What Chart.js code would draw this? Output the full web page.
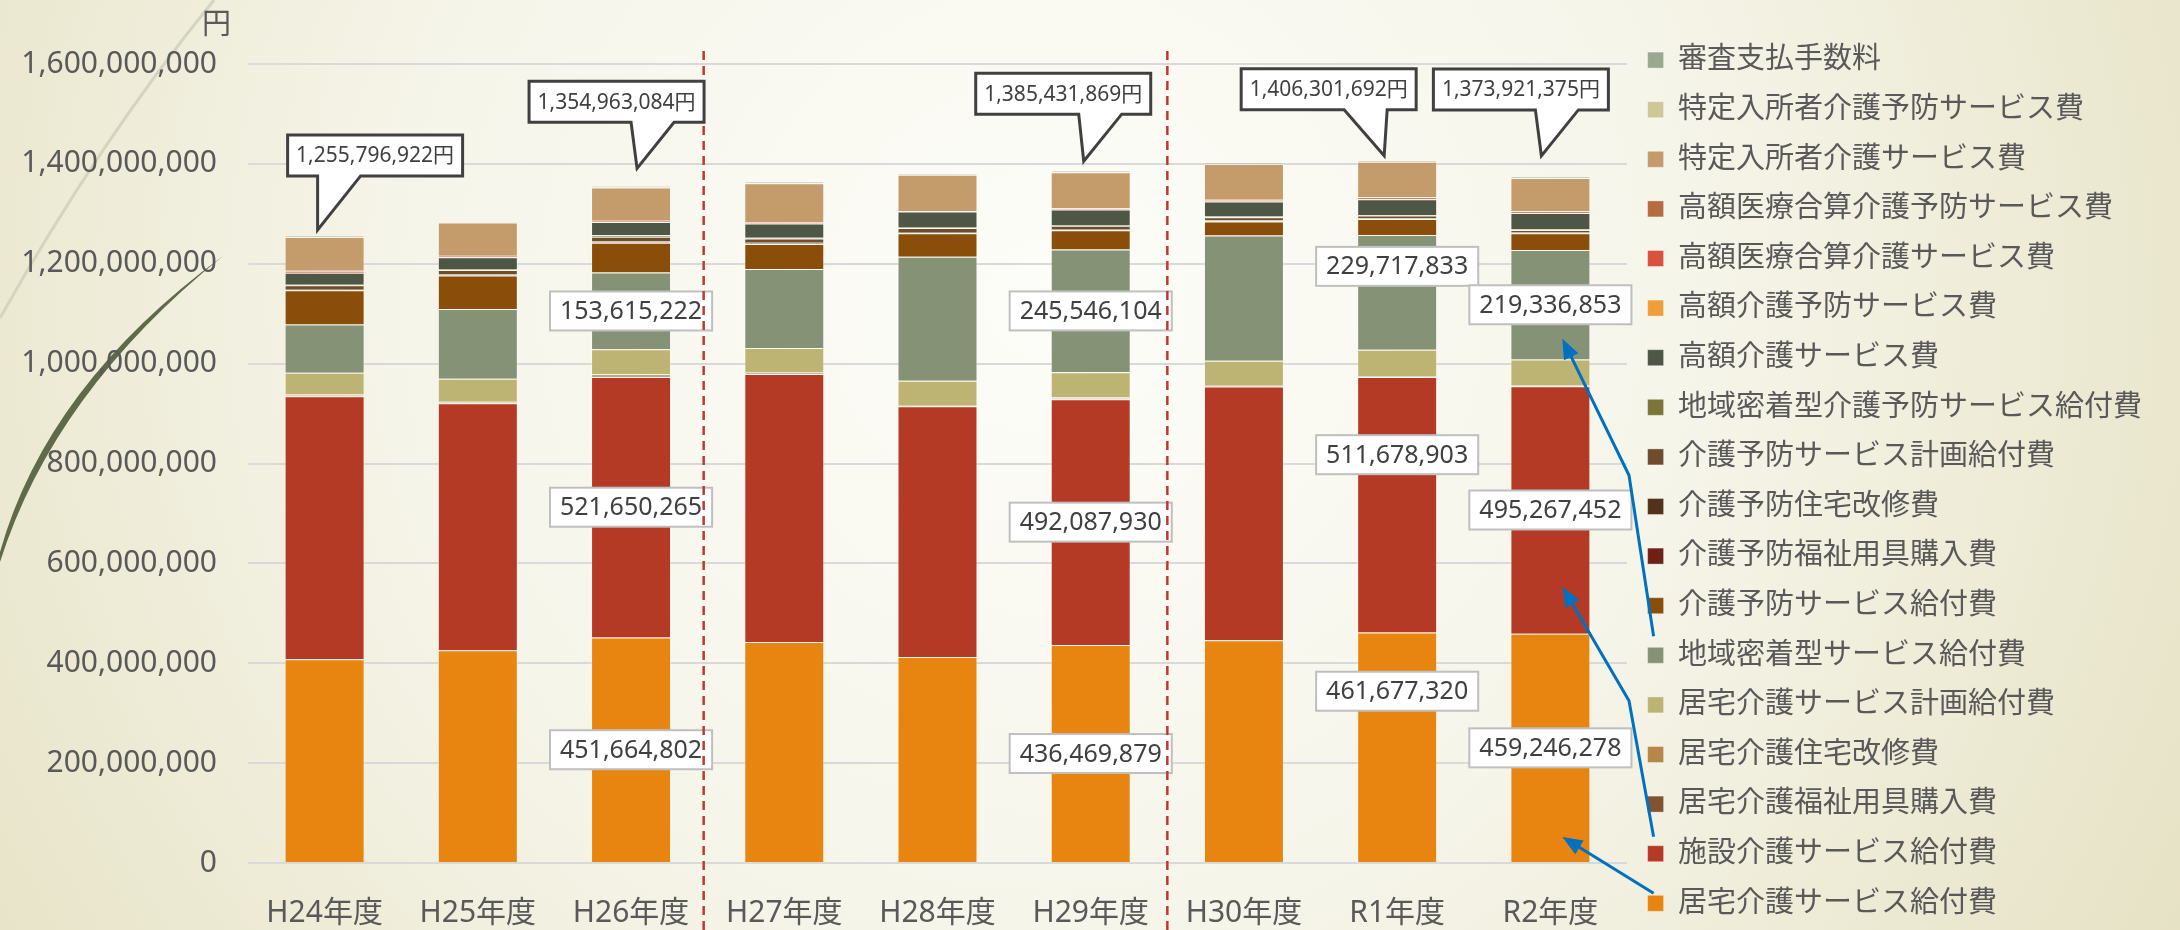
<!DOCTYPE html>
<html lang="ja">
<head>
    <meta charset="UTF-8">
    <title>保険給付費の推移</title>
    <script src="https://cdn.jsdelivr.net/npm/chart.js"></script>
    <style>
        html, body {
            margin: 0;
            padding: 0;
        }

        body {
            width: 2180px;
            height: 930px;
            overflow: hidden;
            background: #f3f1e3;
        }
    </style>
</head>
<body>
    <canvas id="costChart" width="2180" height="930"></canvas>

    <script>
        // 年度
        const fiscalYears = ['H24年度', 'H25年度', 'H26年度', 'H27年度', 'H28年度', 'H29年度', 'H30年度', 'R1年度', 'R2年度'];

        // 給付費（円）: stacked from the bottom up
        const homeCareService = [408000000, 426000000, 451664802, 442700000, 412400000, 436469879, 446000000, 461677320, 459246278];
        const facilityCare = [526600000, 494600000, 521650265, 536600000, 502300000, 492087930, 508000000, 511678903, 495267452];
        const homeWelfareEquip = [1600000, 1500000, 2000000, 1600000, 500000, 1500000, 1300000, 800000, 700000];
        const homeRenovation = [2000000, 1800000, 3300000, 1700000, 600000, 2000000, 1400000, 1000000, 1000000];
        const homeCarePlan = [43300000, 46000000, 50000000, 48700000, 50000000, 50700000, 49300000, 52700000, 52000000];
        const communityService = [96600000, 139300000, 153615222, 158000000, 248000000, 245546104, 250700000, 229717833, 219336853];
        const prevService = [68600000, 67300000, 60000000, 50000000, 47300000, 38700000, 28000000, 32000000, 33300000];
        const prevWelfareEquip = [600000, 600000, 700000, 600000, 500000, 500000, 300000, 300000, 300000];
        const prevRenovation = [2000000, 2200000, 2400000, 2200000, 2000000, 1800000, 1600000, 1500000, 1500000];
        const prevCarePlan = [7400000, 8000000, 8600000, 8400000, 8200000, 7000000, 6600000, 5000000, 5000000];
        const prevCommunity = [1400000, 1900000, 3000000, 1500000, 2000000, 1400000, 1500000, 1200000, 1200000];
        const highCost = [24000000, 24000000, 26700000, 28700000, 30700000, 30700000, 30000000, 31500000, 32700000];
        const prevHighCost = [100000, 100000, 100000, 100000, 100000, 100000, 100000, 100000, 100000];
        const highMedCombined = [3600000, 2400000, 1900000, 2400000, 400000, 2300000, 2900000, 4200000, 3000000];
        const prevHighMedCombined = [300000, 300000, 300000, 200000, 100000, 300000, 300000, 400000, 300000];
        const specialResident = [67696922, 66700000, 66932795, 78000000, 73300000, 72327956, 71500000, 70427636, 66870792];
        const prevSpecialResident = [200000, 200000, 200000, 200000, 200000, 100000, 100000, 100000, 100000];
        const reviewFee = [1800000, 1800000, 1900000, 1800000, 1800000, 1900000, 1900000, 2000000, 2000000];

        // y軸目盛
        const yTicks = [0, 200000000, 400000000, 600000000, 800000000, 1000000000, 1200000000, 1400000000, 1600000000];

        const series = [
            ['居宅介護サービス給付費', homeCareService, '#e88510'],
            ['施設介護サービス給付費', facilityCare, '#b53a26'],
            ['居宅介護福祉用具購入費', homeWelfareEquip, '#805332'],
            ['居宅介護住宅改修費', homeRenovation, '#b5874a'],
            ['居宅介護サービス計画給付費', homeCarePlan, '#bdb474'],
            ['地域密着型サービス給付費', communityService, '#869276'],
            ['介護予防サービス給付費', prevService, '#8a4e0a'],
            ['介護予防福祉用具購入費', prevWelfareEquip, '#6f2118'],
            ['介護予防住宅改修費', prevRenovation, '#52321c'],
            ['介護予防サービス計画給付費', prevCarePlan, '#6e4c2c'],
            ['地域密着型介護予防サービス給付費', prevCommunity, '#7b7539'],
            ['高額介護サービス費', highCost, '#4e5645'],
            ['高額介護予防サービス費', prevHighCost, '#f09e3a'],
            ['高額医療合算介護サービス費', highMedCombined, '#d9523e'],
            ['高額医療合算介護予防サービス費', prevHighMedCombined, '#b46c40'],
            ['特定入所者介護サービス費', specialResident, '#c49b6a'],
            ['特定入所者介護予防サービス費', prevSpecialResident, '#cec796'],
            ['審査支払手数料', reviewFee, '#9aa88f']
        ];

        const FONT = "'Noto Sans', 'Noto Sans CJK JP', sans-serif";
        const TEXT = '#595959';
        const LEGEND_WIDTH = 553;

        // 区切り線（この年度の右側、dx: 手描きのずれ）
        const dividers = [{ after: 2, dx: -4 }, { after: 5, dx: 0 }];

        // 内訳ラベル（dy: 手で動かしたずれ）
        const segmentLabels = [
            { ds: 5, cat: 2 }, { ds: 1, cat: 2 }, { ds: 0, cat: 2 },
            { ds: 5, cat: 5 }, { ds: 1, cat: 5 }, { ds: 0, cat: 5 },
            { ds: 5, cat: 7, dy: -26 }, { ds: 1, cat: 7, dy: -50 }, { ds: 0, cat: 7, dy: -56 },
            { ds: 5, cat: 8 }, { ds: 1, cat: 8 }, { ds: 0, cat: 8 }
        ];

        // 合計の吹き出し
        const callouts = [
            { cat: 0, boxDx: -37, lift: 60, tipDx: -7, tipGap: 6, baseDx: 30 },
            { cat: 2, boxDx: -102, lift: 64, tipDx: 6, tipGap: 18, baseDx: 102 },
            { cat: 5, boxDx: -115, lift: 57, tipDx: -7, tipGap: 10, baseDx: 103 },
            { cat: 7, boxDx: -156, lift: 51, tipDx: -13, tipGap: 5, baseDx: 103 },
            { cat: 8, boxDx: -117, lift: 67, tipDx: -9, tipGap: 21, baseDx: 102 }
        ];

        // 凡例からR2年度の棒への矢印
        const arrows = [
            { ds: 5, cat: 8, frac: 0.19, tailDy: -19, bendDy: -161 },
            { ds: 1, cat: 8, frac: 0.19, tailDy: -17, bendDy: -136 },
            { ds: 0, cat: 8, frac: 0.11, tailDy: -10 }
        ];

        // keep the legend column a fixed width so the plot ends where it should
        const legendWidth = {
            id: 'legendWidth',
            beforeLayout(chart) {
                const legend = chart.legend;
                if (!legend || legend._fixedFit) return;
                const fit = legend.fit;
                legend.fit = function () {
                    fit.call(this);
                    this.width = LEGEND_WIDTH;
                };
                legend._fixedFit = true;
            }
        };

        const backdrop = {
            id: 'backdrop',
            beforeDraw(chart) {
                const { ctx, width, height } = chart;
                ctx.save();
                const g = ctx.createRadialGradient(1050, 300, 0, 1050, 300, 1400);
                g.addColorStop(0, '#fdfdf9');
                g.addColorStop(0.45, '#f6f5ea');
                g.addColorStop(1, '#e4dfbf');
                ctx.fillStyle = g;
                ctx.fillRect(0, 0, width, height);

                // theme swooshes on the left
                ctx.strokeStyle = '#d3d5c0';
                ctx.lineWidth = 3;
                ctx.beginPath();
                ctx.moveTo(0, 318);
                ctx.quadraticCurveTo(100, 140, 214, 0);
                ctx.stroke();

                ctx.fillStyle = '#5e6a48';
                ctx.beginPath();
                ctx.moveTo(0, 552);
                ctx.quadraticCurveTo(47, 385, 223, 256);
                ctx.quadraticCurveTo(54, 392, 0, 562);
                ctx.closePath();
                ctx.fill();
                ctx.restore();
            }
        };

        const annotations = {
            id: 'annotations',
            afterDatasetsDraw(chart) {
                const { ctx, scales: { x, y } } = chart;
                ctx.save();

                // segment value boxes
                ctx.font = '25px ' + FONT;
                ctx.textAlign = 'center';
                ctx.textBaseline = 'middle';
                segmentLabels.forEach(l => {
                    const bar = chart.getDatasetMeta(l.ds).data[l.cat];
                    const text = chart.data.datasets[l.ds].data[l.cat].toLocaleString('en-US');
                    const cy = (bar.y + bar.base) / 2 + (l.dy || 0);
                    const w = ctx.measureText(text).width + 20;
                    const h = 39;
                    ctx.fillStyle = '#ffffff';
                    ctx.fillRect(bar.x - w / 2, cy - h / 2, w, h);
                    ctx.strokeStyle = '#bfbfbf';
                    ctx.lineWidth = 2;
                    ctx.strokeRect(bar.x - w / 2, cy - h / 2, w, h);
                    ctx.fillStyle = '#404040';
                    ctx.fillText(text, bar.x, cy + 1);
                });

                // red dashed dividers
                ctx.strokeStyle = '#c0392b';
                ctx.lineWidth = 2.5;
                ctx.setLineDash([9, 6]);
                dividers.forEach(d => {
                    const px = (x.getPixelForValue(d.after) + x.getPixelForValue(d.after + 1)) / 2 + d.dx;
                    ctx.beginPath();
                    ctx.moveTo(px, 51);
                    ctx.lineTo(px, chart.height);
                    ctx.stroke();
                });
                ctx.setLineDash([]);

                // total callouts
                const BOX_W = 175, BOX_H = 41, BASE_W = 43;
                ctx.font = '21px ' + FONT;
                callouts.forEach(c => {
                    const total = chart.data.datasets.reduce((s, d) => s + d.data[c.cat], 0);
                    const cx = x.getPixelForValue(c.cat);
                    const top = y.getPixelForValue(total);
                    const bx = cx + c.boxDx;
                    const bb = top - c.lift;
                    const bt = bb - BOX_H;
                    ctx.beginPath();
                    ctx.moveTo(bx, bt);
                    ctx.lineTo(bx + BOX_W, bt);
                    ctx.lineTo(bx + BOX_W, bb);
                    ctx.lineTo(bx + c.baseDx + BASE_W, bb);
                    ctx.lineTo(cx + c.tipDx, top - c.tipGap);
                    ctx.lineTo(bx + c.baseDx, bb);
                    ctx.lineTo(bx, bb);
                    ctx.closePath();
                    ctx.fillStyle = '#ffffff';
                    ctx.fill();
                    ctx.strokeStyle = '#404040';
                    ctx.lineWidth = 3;
                    ctx.lineJoin = 'miter';
                    ctx.stroke();
                    ctx.fillStyle = '#404040';
                    ctx.fillText(total.toLocaleString('en-US') + '円', bx + BOX_W / 2, bt + BOX_H / 2 + 1);
                });

                // blue arrows from legend entries
                const legend = chart.legend;
                if (legend && legend.legendHitBoxes) {
                    ctx.strokeStyle = '#0070c0';
                    ctx.fillStyle = '#0070c0';
                    ctx.lineWidth = 3;
                    arrows.forEach(a => {
                        const bar = chart.getDatasetMeta(a.ds).data[a.cat];
                        const tipX = bar.x + 12;
                        const tipY = bar.base + (bar.y - bar.base) * a.frac;
                        const idx = legend.legendItems.findIndex(it => it.datasetIndex === a.ds);
                        const hb = legend.legendHitBoxes[idx];
                        if (!hb) return;
                        const tailX = hb.left + 6;
                        const tailY = hb.top + hb.height / 2 + a.tailDy;
                        const pts = [[tailX, tailY]];
                        if (a.bendDy !== undefined) {
                            pts.push([chart.chartArea.right + 2, tailY + a.bendDy]);
                        }
                        const [px, py] = pts[pts.length - 1];
                        const len = Math.hypot(tipX - px, tipY - py);
                        const ux = (tipX - px) / len, uy = (tipY - py) / len;
                        const head = 20, half = 8;
                        ctx.beginPath();
                        ctx.moveTo(pts[0][0], pts[0][1]);
                        pts.slice(1).forEach(p => ctx.lineTo(p[0], p[1]));
                        ctx.lineTo(tipX - ux * head * 0.8, tipY - uy * head * 0.8);
                        ctx.stroke();
                        ctx.beginPath();
                        ctx.moveTo(tipX, tipY);
                        ctx.lineTo(tipX - ux * head - uy * half, tipY - uy * head + ux * half);
                        ctx.lineTo(tipX - ux * head + uy * half, tipY - uy * head - ux * half);
                        ctx.closePath();
                        ctx.fill();
                    });
                }

                // 単位
                ctx.font = "29px 'Noto Sans CJK JP', sans-serif";
                ctx.fillStyle = TEXT;
                ctx.textAlign = 'right';
                ctx.fillText('円', y.right - 17, 23);
                ctx.restore();
            }
        };

        const ctx = document.getElementById('costChart').getContext('2d');
        new Chart(ctx, {
            type: 'bar',
            data: {
                labels: fiscalYears,
                datasets: series.map(([label, data, color]) => ({
                    label: label,
                    data: data,
                    backgroundColor: color,
                    borderColor: 'rgba(255, 255, 255, 0.35)',
                    borderWidth: 1,
                    categoryPercentage: 1,
                    barPercentage: 0.522
                }))
            },
            options: {
                responsive: false,
                animation: false,
                font: { family: FONT },
                layout: {
                    padding: { top: 25, left: 0, right: 0, bottom: -10 }
                },
                plugins: {
                    legend: {
                        position: 'right',
                        align: 'start',
                        reverse: true,
                        labels: {
                            boxWidth: 16,
                            boxHeight: 16,
                            padding: 20.6,
                            color: TEXT,
                            font: { family: FONT, size: 29 }
                        }
                    },
                    tooltip: { enabled: false }
                },
                scales: {
                    x: {
                        stacked: true,
                        grid: { display: false, drawTicks: false },
                        border: { display: false },
                        afterFit(scale) {
                            scale.height = 77;
                        },
                        ticks: {
                            padding: 32,
                            color: TEXT,
                            font: { family: FONT, size: 30 }
                        }
                    },
                    y: {
                        stacked: true,
                        min: yTicks[0],
                        max: yTicks[yTicks.length - 1],
                        afterBuildTicks(scale) {
                            scale.ticks = yTicks.map(v => ({ value: v }));
                        },
                        afterFit(scale) {
                            scale.width = 248;
                        },
                        grid: { color: '#d9d9d9', lineWidth: 2, drawTicks: false },
                        border: { display: false },
                        ticks: {
                            padding: 31,
                            color: TEXT,
                            font: { family: FONT, size: 30, lineHeight: 2.2 },
                            callback: v => v.toLocaleString('en-US')
                        }
                    }
                }
            },
            plugins: [legendWidth, backdrop, annotations]
        });
    </script>
</body>
</html>
